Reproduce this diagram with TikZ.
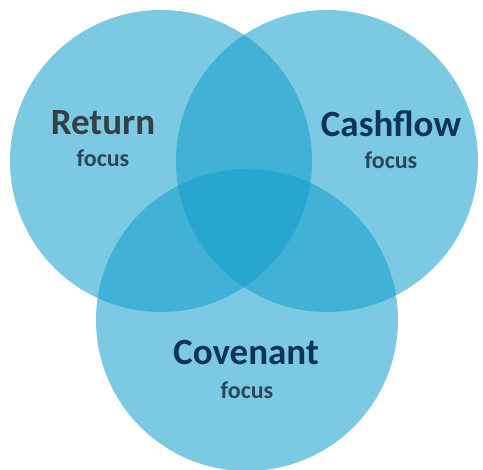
\documentclass[tikz,border=0pt]{standalone}
\usepackage{fontspec}
\setmainfont{Carlito}
\definecolor{vennblue}{RGB}{20,160,205}
\definecolor{titlegray}{RGB}{52,64,72}
\definecolor{titlenavy}{RGB}{12,52,88}
\definecolor{focusgray}{RGB}{44,72,86}
\begin{document}
\begin{tikzpicture}[x=1pt,y=-1pt,
  venn/.style={circle,minimum size=302pt,inner sep=0pt,fill=vennblue,fill opacity=0.56,draw=none},
  title/.style={font=\fontsize{37}{40}\selectfont\bfseries,inner sep=0pt,anchor=base},
  sub/.style={font=\fontsize{24}{26}\selectfont\bfseries,inner sep=0pt,anchor=base,text=focusgray}]
\useasboundingbox (0,0) rectangle (483,470);
\fill[white] (0,0) rectangle (483,470);
\node[venn] (ret) at (161,161) {};
\node[venn] (cash) at (327,161) {};
\node[venn] (cov) at (247,320) {};
\node[title,text=titlegray] (rett) at (103,135) {Return};
\node[sub] (retf) at (103,167) {focus};
\node[title,text=titlenavy] (casht) at (391,137) {Cashflow};
\node[sub] (cashf) at (391,169) {focus};
\node[title,text=titlenavy] (covt) at (246,365) {Covenant};
\node[sub] (covf) at (247,399) {focus};
\end{tikzpicture}
\end{document}
